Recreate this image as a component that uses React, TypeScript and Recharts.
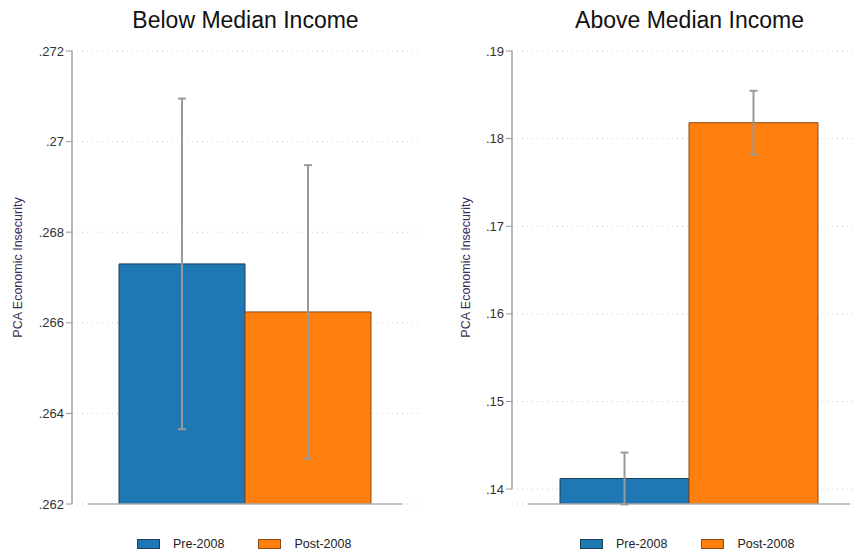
import { BarChart, Bar, XAxis, YAxis, CartesianGrid, ErrorBar, ReferenceLine, ReferenceArea } from "recharts";

const groups = ['Below Median Income', 'Above Median Income'];
const periods = ['Pre-2008', 'Post-2008'];
const preMeans = [0.2673, 0.14121];
const postMeans = [0.26624, 0.18182];
const preCI = [0.00365, 0.00296];
const postCI = [0.00324, 0.00364];
const leftTicks = [0.262, 0.264, 0.266, 0.268, 0.27, 0.272];
const rightTicks = [0.14, 0.15, 0.16, 0.17, 0.18, 0.19];

const FONT = '"Liberation Sans", Arial, sans-serif';
const BLUE = '#1f77b4';
const ORANGE = '#ff7f0e';
const colors = [BLUE, ORANGE];
const borders = ['#1d3f5c', '#8a4a16'];

const fmt = (v: number) => String(v).replace(/^0/, '');

function YLabel(props: any) {
  const { viewBox, dx } = props;
  const x = viewBox.x + dx;
  const y = viewBox.y + viewBox.height / 2 - 10;
  return (
    <text x={x} y={y} transform={`rotate(-90, ${x}, ${y})`} textAnchor="middle" dominantBaseline="central"
      fill="#3a2d55" fontSize={12.5} fontFamily={FONT}>
      PCA Economic Insecurity
    </text>
  );
}

// y axis line drawn only over the tick range
const axisShape = (p: any) => (
  <line x1={p.x} x2={p.x} y1={p.y} y2={p.y + p.height} stroke="#a0a0a0" strokeWidth={1.5} />
);

// baseline inset from the plot edges
const baseShape = (p: any) => (
  <line x1={p.x1 + 16} x2={p.x2 - 16} y1={p.y1} y2={p.y2} stroke="#b0b0b0" strokeWidth={1.5} />
);

function Panel({ idx, ticks, min, width, marginLeft, labelDx, barSize, plotW }: any) {
  const data = [{
    group: groups[idx],
    pre: preMeans[idx],
    post: postMeans[idx],
    preErr: preCI[idx],
    postErr: postCI[idx],
  }];
  const max = ticks[ticks.length - 1];
  return (
    <BarChart width={width} height={552} data={data} barGap={0}
      margin={{ top: 51, right: width - marginLeft - 60 - plotW, bottom: 48, left: marginLeft }}>
      <CartesianGrid vertical={false} stroke="#cfcfcf" strokeDasharray="1 4" />
      <XAxis dataKey="group" hide />
      <YAxis width={60} domain={[min, max]} ticks={ticks} allowDataOverflow interval={0}
        tickFormatter={fmt} axisLine={false} tickLine={{ stroke: '#999' }} tickSize={6} tickMargin={2}
        tick={{ fill: '#333', fontSize: 13, fontFamily: FONT }}
        label={<YLabel dx={labelDx} />} />
      <ReferenceArea y1={ticks[0]} y2={max} shape={axisShape} ifOverflow="visible" />
      <ReferenceLine y={min} shape={baseShape} ifOverflow="visible" />
      <Bar dataKey="pre" name={periods[0]} fill={colors[0]} stroke={borders[0]} strokeWidth={1}
        barSize={barSize} isAnimationActive={false}>
        <ErrorBar dataKey="preErr" width={4} stroke="#999" strokeWidth={2} />
      </Bar>
      <Bar dataKey="post" name={periods[1]} fill={colors[1]} stroke={borders[1]} strokeWidth={1}
        barSize={barSize} isAnimationActive={false}>
        <ErrorBar dataKey="postErr" width={4} stroke="#999" strokeWidth={2} />
      </Bar>
    </BarChart>
  );
}

function LegendRow({ left }: { left: number }) {
  return (
    <div style={{ position: 'absolute', left, top: 538, display: 'flex', alignItems: 'center',
      fontFamily: FONT, fontSize: 12.5, color: '#222', lineHeight: '12px' }}>
      {periods.map((p, i) => (
        <div key={p} style={{ display: 'flex', alignItems: 'center', marginLeft: i ? 34 : 0 }}>
          <div style={{ width: 21, height: 8, background: colors[i], border: `1px solid ${borders[i]}`, marginRight: 13 }} />
          <span>{p}</span>
        </div>
      ))}
    </div>
  );
}

function Title({ text, center }: { text: string; center: number }) {
  return (
    <div style={{ position: 'absolute', top: 9, left: center - 200, width: 400, textAlign: 'center',
      fontFamily: FONT, fontSize: 23, lineHeight: '23px', color: '#111' }}>
      {text}
    </div>
  );
}

export default function App() {
  return (
    <div style={{ position: 'absolute', left: 0, top: 0, width: 854, height: 552, background: '#fff', overflow: 'hidden' }}>
      <div style={{ position: 'absolute', left: 0, top: 0, width: 427, height: 552 }}>
        <Panel idx={0} ticks={leftTicks} min={0.262} width={427} marginLeft={12} labelDx={6} barSize={126} plotW={346} />
        <Title text={groups[0]} center={245.5} />
        <LegendRow left={137} />
      </div>
      <div style={{ position: 'absolute', left: 427, top: 0, width: 427, height: 552, overflow: 'hidden' }}>
        <Panel idx={1} ticks={rightTicks} min={0.1383} width={439} marginLeft={25} labelDx={14} barSize={129} plotW={354} />
        <Title text={groups[1]} center={262.5} />
        <LegendRow left={153} />
      </div>
    </div>
  );
}
